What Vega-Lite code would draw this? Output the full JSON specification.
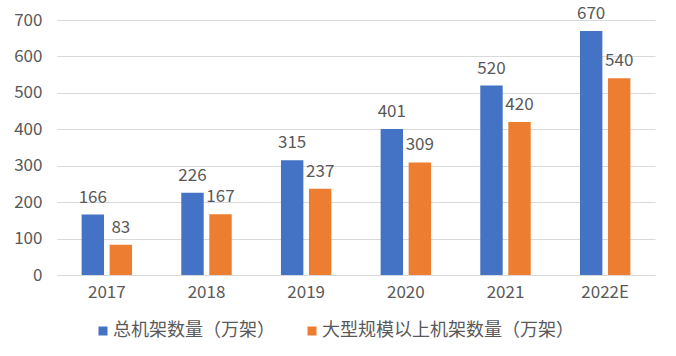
{
  "$schema": "https://vega.github.io/schema/vega-lite/v6.json",
  "width": 598,
  "height": 255,
  "autosize": {"type": "none"},
  "padding": {"left": 57, "top": 20, "right": 21, "bottom": 81},
  "background": "white",
  "config": {"view": {"stroke": null}, "font": "Noto Sans CJK SC"},
  "data": {
    "values": [
      {"year": "2017", "series": "总机架数量（万架）", "value": 166},
      {"year": "2017", "series": "大型规模以上机架数量（万架）", "value": 83},
      {"year": "2018", "series": "总机架数量（万架）", "value": 226},
      {"year": "2018", "series": "大型规模以上机架数量（万架）", "value": 167},
      {"year": "2019", "series": "总机架数量（万架）", "value": 315},
      {"year": "2019", "series": "大型规模以上机架数量（万架）", "value": 237},
      {"year": "2020", "series": "总机架数量（万架）", "value": 401},
      {"year": "2020", "series": "大型规模以上机架数量（万架）", "value": 309},
      {"year": "2021", "series": "总机架数量（万架）", "value": 520},
      {"year": "2021", "series": "大型规模以上机架数量（万架）", "value": 420},
      {"year": "2022E", "series": "总机架数量（万架）", "value": 670},
      {"year": "2022E", "series": "大型规模以上机架数量（万架）", "value": 540}
    ]
  },
  "encoding": {
    "x": {
      "field": "year", "type": "nominal", "sort": null,
      "scale": {"paddingInner": 0.494, "paddingOuter": 0.247},
      "axis": {"title": null, "labelAngle": 0, "labelFontSize": 17, "labelColor": "#595959", "ticks": false, "domain": false, "labelPadding": 9}
    },
    "xOffset": {
      "field": "series", "type": "nominal",
      "scale": {"domain": ["总机架数量（万架）", "大型规模以上机架数量（万架）"], "paddingInner": 0.2}
    },
    "y": {
      "field": "value", "type": "quantitative",
      "scale": {"domain": [0, 700]},
      "axis": {"title": null, "values": [0, 100, 200, 300, 400, 500, 600, 700], "gridColor": "#d9d9d9", "domain": false, "ticks": false, "labelPadding": 15, "labelFontSize": 17, "labelColor": "#595959"}
    }
  },
  "layer": [
    {
      "mark": {"type": "bar"},
      "encoding": {
        "color": {
          "field": "series", "type": "nominal",
          "scale": {"domain": ["总机架数量（万架）", "大型规模以上机架数量（万架）"], "range": ["#4472C4", "#ED7D31"]},
          "legend": {"title": null, "orient": "none", "direction": "horizontal", "legendX": 37, "legendY": 302, "symbolType": "square", "symbolSize": 81, "symbolStrokeWidth": 0, "labelFontSize": 18, "labelColor": "#595959", "labelOffset": 1, "columnPadding": 28, "labelLimit": 400}
        }
      }
    },
    {
      "mark": {"type": "text", "dy": -12, "baseline": "alphabetic", "fontSize": 17, "color": "#595959"},
      "encoding": {"text": {"field": "value", "type": "quantitative"}}
    }
  ]
}
